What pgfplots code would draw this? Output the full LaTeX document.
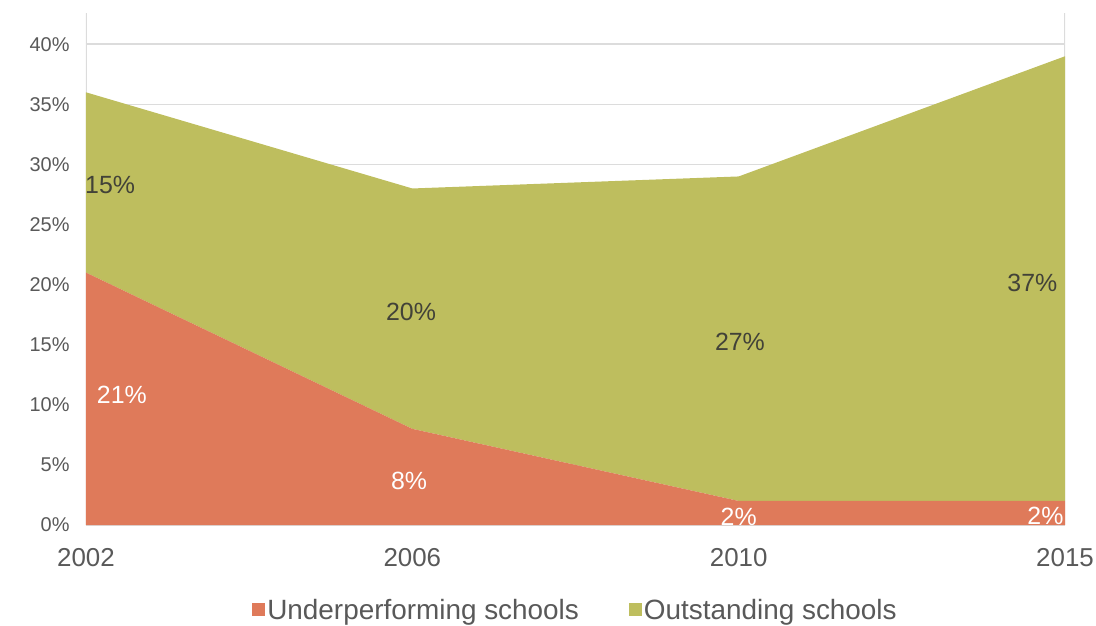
\documentclass[border=0pt]{standalone}
\usepackage{fontspec}
\setmainfont{Liberation Sans}
\usepackage{pgfplots}
\pgfplotsset{compat=1.18}
\definecolor{under}{RGB}{223,122,90}
\definecolor{outst}{RGB}{190,190,94}
\definecolor{gridc}{RGB}{220,220,220}
\definecolor{tickc}{RGB}{89,89,89}
\definecolor{labc}{RGB}{66,66,56}
\begin{document}
\begin{tikzpicture}
\begin{axis}[
  scale only axis, width=979bp, height=512bp,
  xmin=0, xmax=3, ymin=0, ymax=42.6,
  stack plots=y,
  axis line style={draw=none},
  xtick={0,1,2,3}, xticklabels={2002,2006,2010,2015},
  ytick={0,5,...,40},
  yticklabels={0\%,5\%,10\%,15\%,20\%,25\%,30\%,35\%,40\%},
  major tick length=0pt,
  ymajorgrids, grid style={gridc, line width=1.5bp},
  xticklabel style={font=\fontsize{26}{30}\selectfont, text=tickc, yshift=-20bp},
  yticklabel style={font=\fontsize{20}{24}\selectfont, text=tickc, xshift=-13bp},
  legend style={at={(0.5,-0.166)}, anchor=center, draw=none,
    font=\fontsize{28}{32}\selectfont, text=tickc, legend columns=2,
    /tikz/every even column/.append style={column sep=48bp}},
  legend image code/.code={\fill[#1,draw=none] (0bp,-6.5bp) rectangle (13bp,6.5bp);},
]
% stacked shares of schools
\addplot[fill=under, draw=none] coordinates {(0,21) (1,8) (2,2) (3,2)} \closedcycle;
\addlegendentry{Underperforming schools}
\addplot[fill=outst, draw=none] coordinates {(0,15) (1,20) (2,27) (3,37)} \closedcycle;
\addlegendentry{Outstanding schools}

\draw[gridc, line width=2bp] (rel axis cs:0,0) -- (rel axis cs:0,1);
\draw[gridc, line width=2bp] (rel axis cs:1,0) -- (rel axis cs:1,1);

\coordinate (a) at (axis cs:0.074,28.3);
\coordinate (b) at (axis cs:0.996,17.7);
\coordinate (c) at (axis cs:2.004,15.2);
\coordinate (d) at (axis cs:2.90,20.1);
\coordinate (e) at (axis cs:0.11,10.8);
\coordinate (f) at (axis cs:0.99,3.7);
\coordinate (g) at (axis cs:2.0,0.7);
\coordinate (h) at (axis cs:2.94,0.8);
\end{axis}
\begin{scope}[every node/.style={font=\fontsize{25}{30}\selectfont}]
\node[text=labc] at (a) {15\%};
\node[text=labc] at (b) {20\%};
\node[text=labc] at (c) {27\%};
\node[text=labc] at (d) {37\%};
\node[text=white] at (e) {21\%};
\node[text=white] at (f) {8\%};
\node[text=white] at (g) {2\%};
\node[text=white] at (h) {2\%};
\end{scope}
\pgfresetboundingbox
\path[use as bounding box] (-86bp,-101bp) rectangle (1010bp,525bp);
\end{tikzpicture}
\end{document}
